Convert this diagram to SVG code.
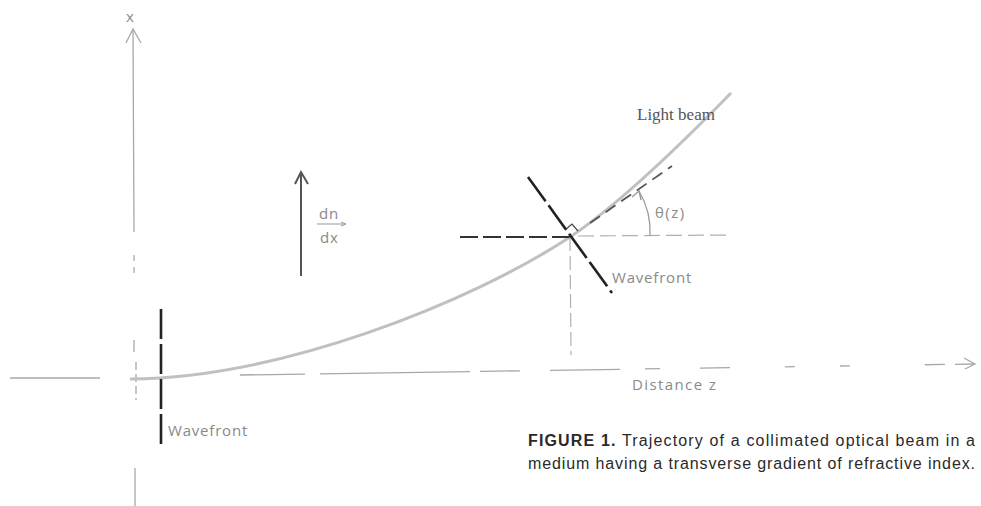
<svg xmlns="http://www.w3.org/2000/svg" width="981" height="506" viewBox="0 0 981 506">
<defs>
<style>
.axis{stroke:#a8a8a8;stroke-width:1.3;fill:none}
.lbl{font-family:"Open Sans","Liberation Sans",sans-serif;fill:#8a8a8a;font-size:15px;letter-spacing:0.8px}
.wf{stroke:#222;stroke-width:2.6;fill:none;stroke-dasharray:30 5}
.cap{font-family:"Liberation Sans",Arial,sans-serif;fill:#2a2a2a;font-size:16px}
</style>
</defs>
<rect width="981" height="506" fill="#fff"/>
<g id="connectors">
<line class="axis" x1="133" y1="30" x2="134" y2="232"/>
<line class="axis" x1="134" y1="255" x2="134" y2="278" stroke-dasharray="6 6"/>
<line class="axis" x1="134" y1="340" x2="134" y2="352"/>
<line class="axis" x1="136" y1="362" x2="136" y2="400" stroke-dasharray="8 4"/>
<line class="axis" x1="135" y1="468" x2="135" y2="506"/>
<polyline class="axis" points="126,43 133,29 141,43" stroke-width="1.5"/>
<line class="axis" x1="10" y1="378" x2="100" y2="378"/>
<line class="axis" x1="240" y1="375" x2="975" y2="364" stroke-dasharray="65 15 150 10 40 30 70 25 15 40 30 55 10 45 10 75 20 10 70 0"/>
<polyline class="axis" points="964,358 975,364 965,369" stroke-width="1.4"/>
<path d="M130,379 C280,378 470,303 570,237 C620,204 690,135 731,93" fill="none" stroke="#c0c0c0" stroke-width="3"/>
<line x1="460" y1="237" x2="570" y2="237" stroke="#333" stroke-width="1.8" stroke-dasharray="18 5"/>
<line x1="578" y1="236" x2="731" y2="235" stroke="#b0b0b0" stroke-width="1.2" stroke-dasharray="16 6"/>
<line x1="570" y1="237" x2="571" y2="355" stroke="#b0b0b0" stroke-width="1.2" stroke-dasharray="14 5"/>
<line x1="590" y1="223" x2="672" y2="166" stroke="#555" stroke-width="1.8" stroke-dasharray="12 7"/>
<polyline points="565,230 572,224 578,231" fill="none" stroke="#444" stroke-width="1.2"/>
<path d="M650,236 A80,80 0 0 0 639,191" fill="none" stroke="#999" stroke-width="1.3"/>
<polyline points="632,197 639,191 641,200" fill="none" stroke="#999" stroke-width="1.3"/>
<line x1="301" y1="276" x2="301" y2="173" stroke="#555" stroke-width="2"/>
<polyline points="295,184 301,172 308,184" fill="none" stroke="#555" stroke-width="2"/>
<line x1="317" y1="224" x2="345" y2="224" stroke="#999" stroke-width="1"/>
<polyline points="341,222 346,224 341,226" fill="none" stroke="#999" stroke-width="1"/>
</g>
<g id="wavefront-left">
<line class="wf" x1="161" y1="309" x2="161" y2="445"/>
<text class="lbl" x="168" y="436">Wavefront</text>
</g>
<g id="wavefront-right">
<line class="wf" x1="528" y1="177" x2="612" y2="293"/>
<text class="lbl" x="612" y="283">Wavefront</text>
</g>
<g id="labels">
<text class="lbl" x="126" y="22" font-size="15">x</text>
<text class="lbl" x="319" y="219" font-size="15">dn</text>
<text class="lbl" x="320" y="243" font-size="15">dx</text>
<text class="lbl" x="655" y="218" font-size="18" style="letter-spacing:1.5px">θ(z)</text>
<text class="lbl" x="632" y="390" style="letter-spacing:1.4px">Distance z</text>
<text x="637" y="120" font-family="'Liberation Serif','DejaVu Serif',serif" font-size="17" fill="#555">Light beam</text>
</g>
<g id="caption">
<text class="cap" x="528" y="446" textLength="447" lengthAdjust="spacing"><tspan font-weight="bold">FIGURE 1.</tspan> Trajectory of a collimated optical beam in a</text>
<text class="cap" x="528" y="469" textLength="447" lengthAdjust="spacing">medium having a transverse gradient of refractive index.</text>
</g>
</svg>
